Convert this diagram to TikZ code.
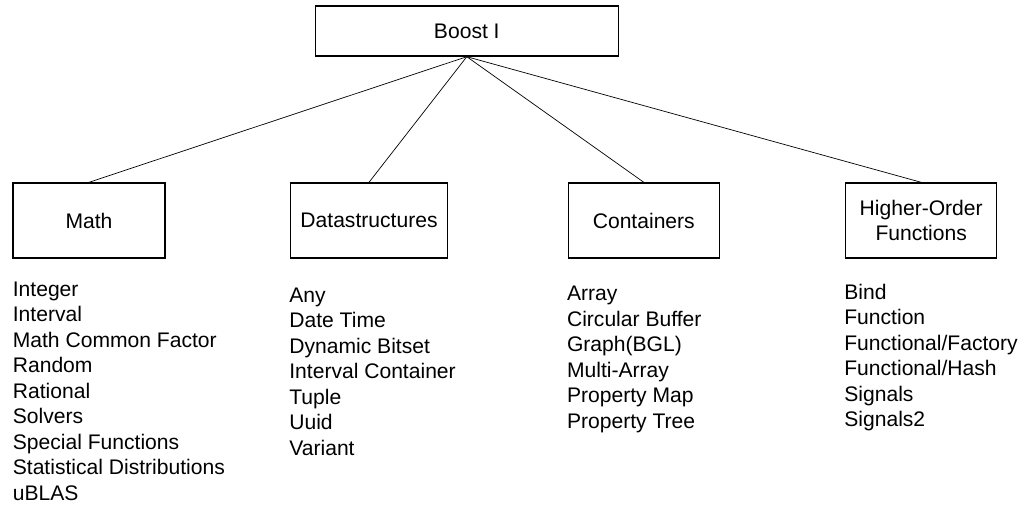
\documentclass[tikz,border=0pt]{standalone}
\usepackage{fontspec}
\setmainfont{Liberation Sans}
\usetikzlibrary{positioning}
\tikzset{
    libbox/.style={draw=black, thick, inner sep=0pt, align=center, minimum height=1.5cm},
    liblist/.style={anchor=base west, inner sep=0pt, align=left},
    every picture/.style={/utils/exec={\fontsize{12}{14.5}\selectfont}}
}

\begin{document}
\begin{tikzpicture}[x=0.02cm, y=-0.02cm, thin]
    \useasboundingbox (0,0) rectangle (1020,508);

    % root
    \node[libbox, minimum width=6.06cm, minimum height=1cm] (boost) at (466.8, 31) {Boost I};

    % categories
    \node[libbox, minimum width=3.04cm] (math) at (89, 220.5) {Math};
    \node[libbox, minimum width=3.13cm] (data) at (369, 220.5) {Datastructures};
    \node[libbox, minimum width=3.02cm] (cont) at (643.8, 220.5) {Containers};
    \node[libbox, minimum width=3.02cm] (hof)  at (921.2, 220.5) {Higher-Order\\Functions};

    \draw (boost.south) -- (math.north);
    \draw (boost.south) -- (data.north);
    \draw (boost.south) -- (cont.north);
    \draw (boost.south) -- (hof.north);

    % libraries (base = last line)
    \node[liblist] (mathlist) at (12.5, 500) {Integer\\Interval\\Math Common Factor\\Random\\Rational\\Solvers\\Special Functions\\Statistical Distributions\\uBLAS};
    \node[liblist] (datalist) at (289, 455) {Any\\Date Time\\Dynamic Bitset\\Interval Container\\Tuple\\Uuid\\Variant};
    \node[liblist] (contlist) at (566.7, 428.3) {Array\\Circular Buffer\\Graph(BGL)\\Multi-Array\\Property Map\\Property Tree};
    \node[liblist] (hoflist)  at (844, 426.7) {Bind\\Function\\Functional/Factory\\Functional/Hash\\Signals\\Signals2};

\end{tikzpicture}
\end{document}
